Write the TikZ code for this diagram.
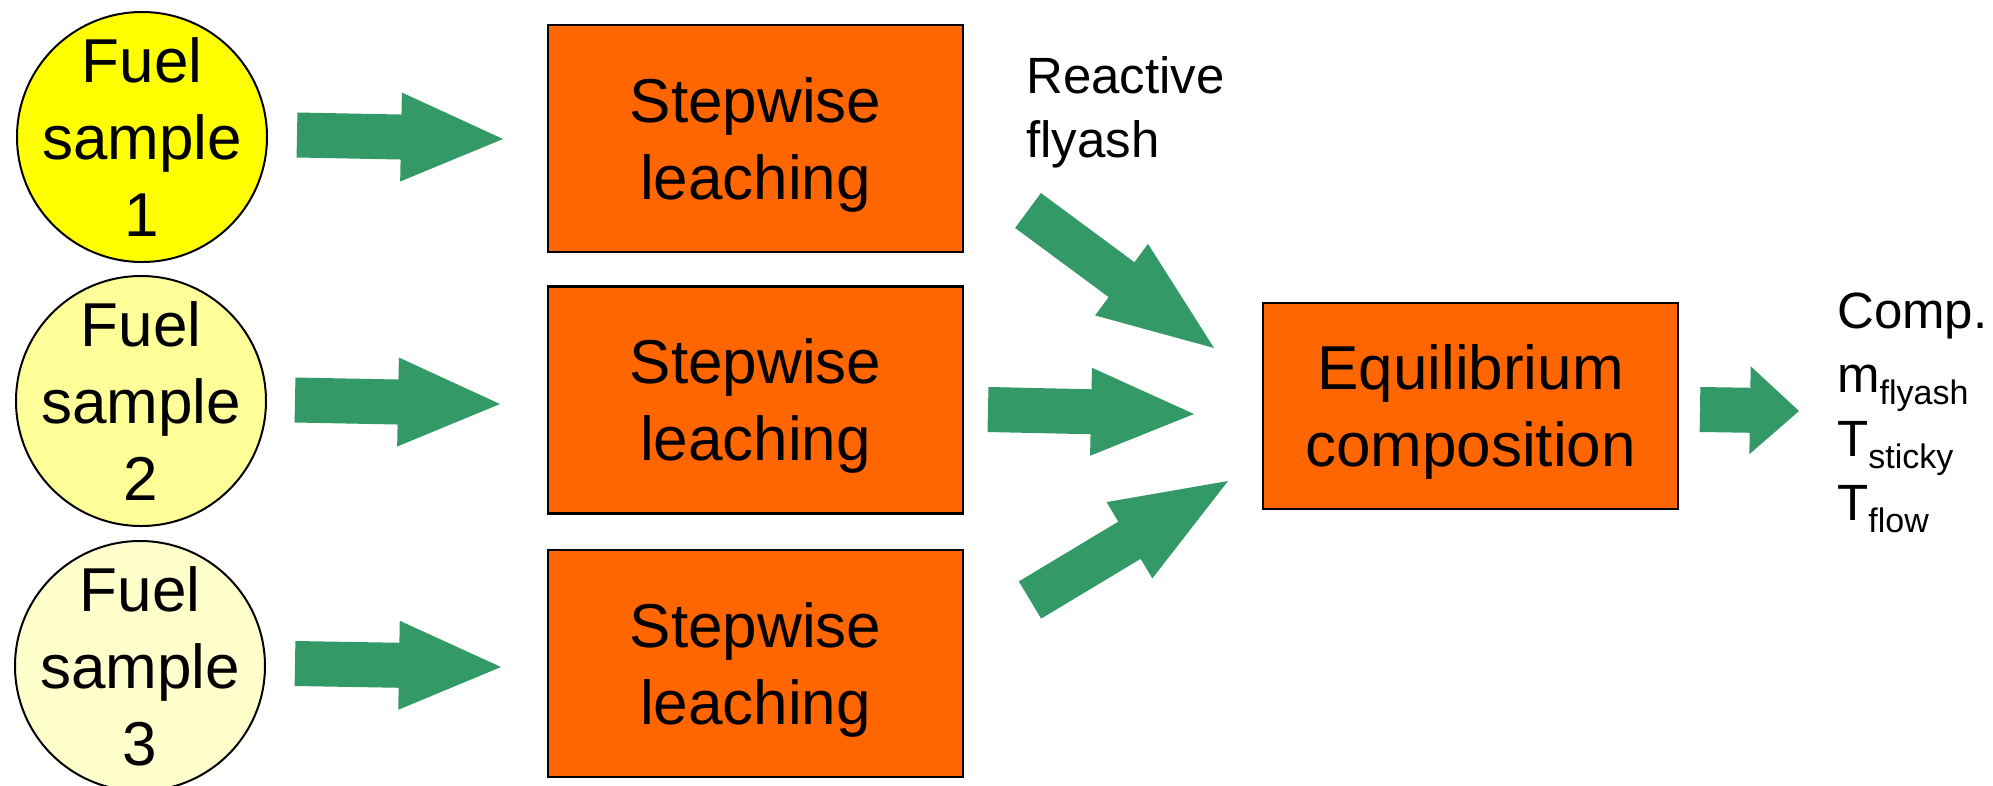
\documentclass[tikz,border=0pt]{standalone}
\usepackage{fontspec}
\setmainfont{Liberation Sans}
\usetikzlibrary{calc}

\definecolor{flowgreen}{HTML}{339966}
\definecolor{boxorange}{HTML}{FF6600}
\definecolor{fuelA}{HTML}{FFFF00}
\definecolor{fuelB}{HTML}{FFFF99}
\definecolor{fuelC}{HTML}{FFFFCC}

% lowered, smaller index text (m_flyash, T_sticky, ...)
\newcommand\lowsub[1]{\raisebox{-12pt}{\fontsize{34pt}{34pt}\selectfont #1}}

% wide block arrow: #1 tail, #2 tip, #3 half shaft width, #4 half head width, #5 head length
\newcommand\blockarrow[5]{%
  \coordinate (ba-base) at ($(#2)!#5!(#1)$);
  \fill[flowgreen]
    ($(#1)!#3!90:(#2)$) -- ($(ba-base)!#3!90:(#2)$) -- ($(ba-base)!#4!90:(#2)$)
    -- (#2)
    -- ($(ba-base)!#4!-90:(#2)$) -- ($(ba-base)!#3!-90:(#2)$) -- ($(#1)!#3!-90:(#2)$)
    -- cycle;}

\tikzset{
  bigtext/.style={font=\fontsize{62pt}{77pt}\selectfont, align=center, inner sep=0pt, text depth=0pt},
  sidetext/.style={font=\fontsize{51pt}{64pt}\selectfont, align=left, inner sep=0pt},
  fuel/.style={circle, draw=black, line width=2pt, minimum size=250pt, inner sep=0pt},
  procbox/.style={rectangle, draw=black, line width=2.5pt, fill=boxorange,
                  minimum width=415pt, minimum height=227pt, bigtext},
}

\begin{document}
\begin{tikzpicture}[x=1pt, y=-1pt]
\useasboundingbox (0,0) rectangle (1993,785);

% fuel samples
\node[fuel, fill=fuelA, label={[bigtext]center:Fuel\\sample\\1}] (f1) at (142,137) {};
\node[fuel, fill=fuelB, label={[bigtext]center:Fuel\\sample\\2}] (f2) at (141,401) {};
\node[fuel, fill=fuelC, label={[bigtext]center:Fuel\\sample\\3}] (f3) at (140,666) {};

% leaching steps
\node[procbox] (s1) at (755.5,138.5) {Stepwise\\leaching};
\node[procbox] (s2) at (755.5,400) {Stepwise\\leaching};
\node[procbox] (s3) at (755.5,663.5) {Stepwise\\leaching};

% equilibrium step
\node[procbox, minimum height=206pt] (eq) at (1470.5,406) {Equilibrium\\composition};

% side texts
\node[sidetext, anchor=north west] (fly) at (1026,56) {Reactive\\flyash};
\node[sidetext, anchor=north west] (res) at (1837,293)
  {Comp.\\m\lowsub{flyash}\\T\lowsub{sticky}\\T\lowsub{flow}};

% arrow end points
\coordinate (a1t) at (297,135);   \coordinate (a1h) at (503,139);
\coordinate (a2t) at (295,400);   \coordinate (a2h) at (500,404);
\coordinate (a3t) at (295,663.5); \coordinate (a3h) at (501,667);
\coordinate (d1t) at (1028,210.5); \coordinate (d1h) at (1214,348);
\coordinate (d2t) at (988,409.5);  \coordinate (d2h) at (1194,414);
\coordinate (d3t) at (1030,600);   \coordinate (d3h) at (1228,481);
\coordinate (ot) at (1700,409.5);  \coordinate (oh) at (1799,411);

% arrows
\blockarrow{a1t}{a1h}{22.5pt}{44.5pt}{102pt}
\blockarrow{a2t}{a2h}{22.5pt}{44.5pt}{102pt}
\blockarrow{a3t}{a3h}{22.5pt}{44.5pt}{102pt}
\blockarrow{d1t}{d1h}{21.7pt}{44.5pt}{115pt}
\blockarrow{d2t}{d2h}{22.5pt}{44pt}{103pt}
\blockarrow{d3t}{d3h}{21.7pt}{44.5pt}{115pt}
\blockarrow{ot}{oh}{22.5pt}{44pt}{49pt}
\end{tikzpicture}
\end{document}
